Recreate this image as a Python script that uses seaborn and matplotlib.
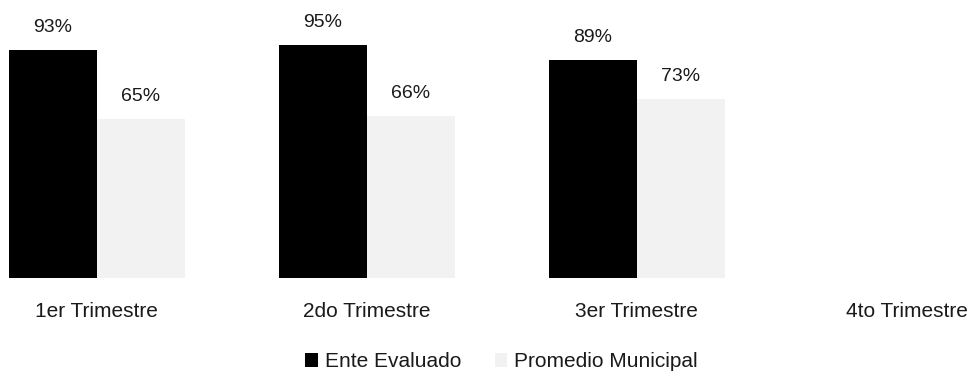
import numpy as np
import pandas as pd
import seaborn as sns
import matplotlib.pyplot as plt

# Chart data
trimestres = ["1er Trimestre", "2do Trimestre", "3er Trimestre", "4to Trimestre"]
ente_evaluado = [0.93, 0.95, 0.89, np.nan]
promedio_municipal = [0.65, 0.66, 0.73, np.nan]
series = ["Ente Evaluado", "Promedio Municipal"]

df = pd.DataFrame({"Trimestre": trimestres,
                   "Ente Evaluado": ente_evaluado,
                   "Promedio Municipal": promedio_municipal})
melted = df.melt(id_vars="Trimestre", value_vars=series, var_name="Serie", value_name="Valor")

sns.set_style("white")
plt.rcParams["font.family"] = ["Liberation Sans", "DejaVu Sans"]

fig = plt.figure(figsize=(9.76, 3.71), dpi=100)
ax = fig.add_axes([0, 0.2507, 1, 0.7493])

sns.barplot(data=melted, x="Trimestre", y="Valor", hue="Serie", order=trimestres,
            hue_order=series, palette=["#000000", "#f2f2f2"], width=0.65, gap=0,
            linewidth=0, errorbar=None, ax=ax)

# Percentage labels above the bars
for cont in ax.containers:
    for bar in cont:
        if bar is None:
            continue
        h = bar.get_height()
        if np.isnan(h):
            continue
        ax.annotate(f"{h:.0%}", (bar.get_x() + bar.get_width() / 2, h),
                    xytext=(0, 10), textcoords="offset points", ha="center", va="bottom",
                    fontsize=14, color="#1a1a1a")

ax.set_ylim(0, 1.135)
ax.set_xlim(-0.359, 3.256)
ax.set_xlabel("")
ax.set_ylabel("")
ax.set_yticks([])
ax.tick_params(axis="x", length=0, pad=17, labelsize=15, labelcolor="#1a1a1a")
sns.despine(ax=ax, left=True, bottom=True)

ax.legend(loc="center", bbox_to_anchor=(0.514, -0.302), ncol=2, frameon=False,
          fontsize=15, handlelength=0.6, handleheight=0.6, handletextpad=0.35,
          columnspacing=1.6, labelcolor="#1a1a1a")

plt.savefig("out.png", dpi=100)
